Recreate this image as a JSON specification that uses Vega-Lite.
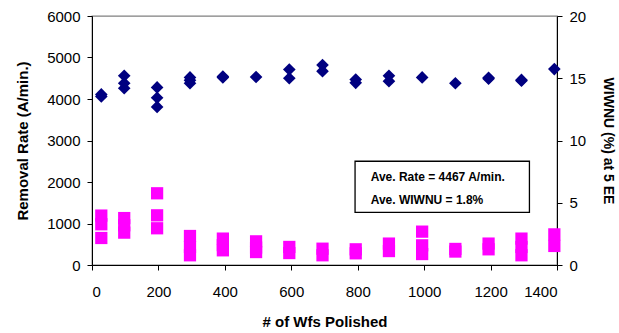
{
  "$schema": "https://vega.github.io/schema/vega-lite/v6.json",
  "autosize": {"type": "none"},
  "padding": {"left": 92, "top": 16, "right": 62, "bottom": 68},
  "width": 465,
  "height": 249,
  "background": "white",
  "config": {
    "view": {"stroke": "#808080", "strokeWidth": 1.3},
    "axis": {
      "labelFont": "Liberation Sans",
      "labelFontSize": 15,
      "labelColor": "#000000",
      "titleFont": "Liberation Sans",
      "titleFontSize": 15,
      "titleFontWeight": "bold",
      "titleColor": "#000000",
      "domainColor": "#000000",
      "tickColor": "#000000",
      "tickSize": 5,
      "grid": false,
      "format": "d"
    }
  },
  "datasets": {
    "rate": [
      {"wafers": 28, "rate": 4110}, {"wafers": 28, "rate": 4060},
      {"wafers": 97, "rate": 4560}, {"wafers": 97, "rate": 4380}, {"wafers": 97, "rate": 4260},
      {"wafers": 196, "rate": 4280}, {"wafers": 196, "rate": 4030}, {"wafers": 196, "rate": 3810},
      {"wafers": 295, "rate": 4520}, {"wafers": 295, "rate": 4450}, {"wafers": 295, "rate": 4380},
      {"wafers": 394, "rate": 4520}, {"wafers": 394, "rate": 4540},
      {"wafers": 494, "rate": 4530},
      {"wafers": 594, "rate": 4710}, {"wafers": 594, "rate": 4500},
      {"wafers": 694, "rate": 4820}, {"wafers": 694, "rate": 4670},
      {"wafers": 794, "rate": 4470}, {"wafers": 794, "rate": 4390},
      {"wafers": 894, "rate": 4560}, {"wafers": 894, "rate": 4430},
      {"wafers": 994, "rate": 4520},
      {"wafers": 1094, "rate": 4380},
      {"wafers": 1194, "rate": 4490}, {"wafers": 1194, "rate": 4510},
      {"wafers": 1293, "rate": 4440}, {"wafers": 1293, "rate": 4460},
      {"wafers": 1392, "rate": 4720}
    ],
    "wiwnu": [
      {"wafers": 28, "wiwnu": 3.97}, {"wafers": 28, "wiwnu": 3.27}, {"wafers": 28, "wiwnu": 2.17},
      {"wafers": 97, "wiwnu": 3.77}, {"wafers": 97, "wiwnu": 3.19}, {"wafers": 97, "wiwnu": 2.6},
      {"wafers": 196, "wiwnu": 5.76}, {"wafers": 196, "wiwnu": 3.99}, {"wafers": 196, "wiwnu": 2.95},
      {"wafers": 295, "wiwnu": 2.33}, {"wafers": 295, "wiwnu": 1.45}, {"wafers": 295, "wiwnu": 0.78},
      {"wafers": 394, "wiwnu": 2.12}, {"wafers": 394, "wiwnu": 1.6}, {"wafers": 394, "wiwnu": 1.18},
      {"wafers": 494, "wiwnu": 1.9}, {"wafers": 494, "wiwnu": 1.4}, {"wafers": 494, "wiwnu": 1.04},
      {"wafers": 594, "wiwnu": 1.45}, {"wafers": 594, "wiwnu": 0.96},
      {"wafers": 694, "wiwnu": 1.31}, {"wafers": 694, "wiwnu": 0.78},
      {"wafers": 794, "wiwnu": 1.26}, {"wafers": 794, "wiwnu": 0.94},
      {"wafers": 894, "wiwnu": 1.72}, {"wafers": 894, "wiwnu": 1.12},
      {"wafers": 994, "wiwnu": 2.68}, {"wafers": 994, "wiwnu": 1.58}, {"wafers": 994, "wiwnu": 0.88},
      {"wafers": 1094, "wiwnu": 1.29}, {"wafers": 1094, "wiwnu": 1.08},
      {"wafers": 1194, "wiwnu": 1.72}, {"wafers": 1194, "wiwnu": 1.26},
      {"wafers": 1293, "wiwnu": 2.12}, {"wafers": 1293, "wiwnu": 1.45}, {"wafers": 1293, "wiwnu": 0.78},
      {"wafers": 1392, "wiwnu": 2.46}, {"wafers": 1392, "wiwnu": 1.53}
    ],
    "notes": [
      {"line": "Ave. Rate = 4467 A/min.", "ypos": 2110},
      {"line": "Ave. WIWNU = 1.8%", "ypos": 1560}
    ]
  },
  "layer": [
    {
      "data": {"name": "rate"},
      "mark": {"type": "point", "shape": "diamond", "filled": true, "size": 160, "color": "#000080", "opacity": 1},
      "encoding": {
        "x": {"field": "wafers", "type": "quantitative", "scale": {"domain": [0, 1400], "nice": false},
              "axis": {"title": "# of Wfs Polished", "values": [0, 200, 400, 600, 800, 1000, 1200, 1400], "labelPadding": 14, "titlePadding": 15}},
        "y": {"field": "rate", "type": "quantitative", "scale": {"domain": [0, 6000], "nice": false},
              "axis": {"title": "Removal Rate (A/min.)", "values": [0, 1000, 2000, 3000, 4000, 5000, 6000], "labelPadding": 7, "titlePadding": 16}}
      }
    },
    {
      "data": {"name": "wiwnu"},
      "mark": {"type": "point", "shape": "square", "filled": true, "size": 150, "color": "#FF00FF", "opacity": 1},
      "encoding": {
        "x": {"field": "wafers", "type": "quantitative", "scale": {"domain": [0, 1400], "nice": false}},
        "y": {"field": "wiwnu", "type": "quantitative", "scale": {"domain": [0, 20], "nice": false},
              "axis": {"title": "WIWNU (%) at 5 EE", "orient": "right", "values": [0, 5, 10, 15, 20], "labelPadding": 7, "titlePadding": 15, "titleFontSize": 14}}
      }
    },
    {
      "data": {"values": [{}]},
      "mark": {"type": "rect", "fill": "white", "stroke": "#000000", "strokeWidth": 1.3},
      "encoding": {
        "x": {"datum": 792, "type": "quantitative", "scale": {"domain": [0, 1400], "nice": false}},
        "x2": {"datum": 1317},
        "y": {"datum": 2500, "type": "quantitative", "scale": {"domain": [0, 6000], "nice": false}, "axis": null},
        "y2": {"datum": 1270}
      }
    },
    {
      "data": {"name": "notes"},
      "mark": {"type": "text", "align": "left", "baseline": "middle", "font": "Liberation Sans", "fontWeight": "bold", "fontSize": 12, "color": "#000000"},
      "encoding": {
        "x": {"datum": 839, "type": "quantitative", "scale": {"domain": [0, 1400], "nice": false}},
        "y": {"field": "ypos", "type": "quantitative", "scale": {"domain": [0, 6000], "nice": false}, "axis": null},
        "text": {"field": "line"}
      }
    }
  ],
  "resolve": {"scale": {"y": "independent"}, "axis": {"y": "independent"}}
}
